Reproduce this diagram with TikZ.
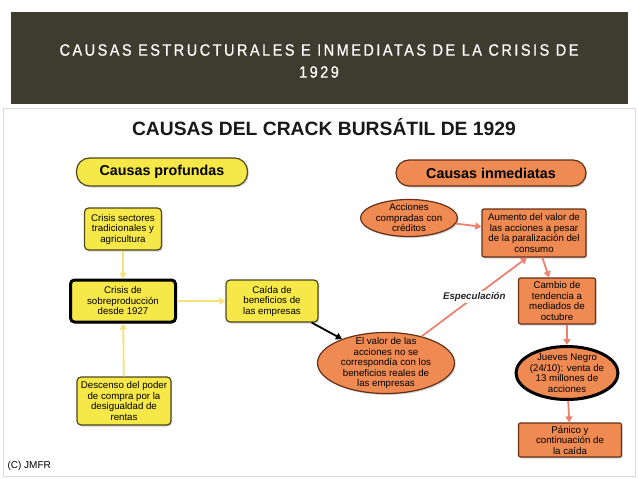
\documentclass[tikz,border=0pt]{standalone}
\usepackage{fontspec}
\setmainfont{Liberation Sans}
\newfontfamily\bannerfont[LetterSpace=15, FakeStretch=0.88, FakeBold=0.6]{Liberation Sans}
\usepackage{tikz}
\usetikzlibrary{arrows.meta,shapes.geometric,shadows}
\definecolor{crackyellow}{RGB}{246,232,72}
\definecolor{crackorange}{RGB}{239,138,82}
\definecolor{yellowline}{RGB}{80,72,26}
\definecolor{orangeline}{RGB}{100,48,22}
\definecolor{bannerbg}{RGB}{62,60,46}
\definecolor{yarrow}{RGB}{244,226,122}
\definecolor{sarrow}{RGB}{238,128,112}
\newcommand{\nodefont}{\fontsize{9.7}{10.5}\selectfont}

\begin{document}
\begin{tikzpicture}[
  x=1pt, y=-1pt,
  shade/.style={drop shadow={opacity=0.35, shadow xshift=1.2pt, shadow yshift=-1.5pt}},
  ybox/.style={rectangle, rounded corners=4pt, draw=yellowline, line width=1.2pt,
               fill=crackyellow, align=center, inner sep=1pt, font=\nodefont, shade},
  obox/.style={rectangle, rounded corners=2pt, draw=orangeline, line width=1.2pt,
               fill=crackorange, align=center, inner sep=1pt, font=\nodefont, shade},
  oval/.style={ellipse, draw=orangeline, line width=1.2pt, fill=crackorange,
               align=center, inner sep=-12pt, font=\nodefont, shade},
  head/.style={rectangle, rounded corners=13pt, line width=1.2pt, align=center,
               font=\fontsize{14.3}{16}\selectfont\bfseries, shade},
  key/.style={line width=3pt, draw=black},
  yarr/.style={-{Triangle[length=6pt,width=7pt]}, line width=1.8pt, yarrow},
  sarr/.style={-{Triangle[length=6pt,width=7pt]}, line width=1.8pt, sarrow},
  barr/.style={-{Triangle[length=6pt,width=7pt]}, line width=1.8pt, black}
]
\useasboundingbox (0,0) rectangle (638,479);
% banner and frame
\fill[bannerbg] (11,12) rectangle (628,104);
\draw[gray!30, line width=1pt] (3,108) rectangle (635,476);
\node[text=white, font=\bannerfont\fontsize{16.5}{22}\selectfont, align=center]
  (banner) at (319,61) {CAUSAS ESTRUCTURALES E INMEDIATAS DE LA CRISIS DE\\1929};
\node[font=\fontsize{19.3}{21}\selectfont\bfseries, text=black!90] (title) at (324,127)
  {CAUSAS DEL CRACK BURS\'ATIL DE 1929};
\node[font=\fontsize{10}{11}\selectfont, anchor=west] (copy) at (4,466) {(C) JMFR};

% causas profundas
\node[head, draw=yellowline, fill=crackyellow, minimum width=171pt, minimum height=28pt]
  (prof) at (162,172) {Causas profundas};
\node[ybox, minimum width=77pt, minimum height=42pt] (sect) at (123,229)
  {Crisis sectores\\tradicionales y\\agricultura};
\node[ybox, key, minimum width=105pt, minimum height=42pt] (sobre) at (123,301)
  {Crisis de\\sobreproducci\'on\\desde 1927};
\node[ybox, minimum width=92pt, minimum height=42pt] (caida) at (272,301)
  {Ca\'ida de\\beneficios de\\las empresas};
\node[ybox, minimum width=94pt, minimum height=48pt] (desc) at (124,401)
  {Descenso del poder\\de compra por la\\desigualdad de\\rentas};

% causas inmediatas
\node[head, draw=orangeline, fill=crackorange, minimum width=190pt, minimum height=26pt]
  (inme) at (491,173) {Causas inmediatas};
\node[oval, minimum width=97pt, minimum height=37pt] (accio) at (409,218)
  {Acciones\\compradas con\\cr\'editos};
\node[obox, minimum width=104pt, minimum height=48pt] (aumen) at (534,233)
  {Aumento del valor de\\las acciones a pesar\\de la paralizaci\'on del\\consumo};
\node[obox, minimum width=77pt, minimum height=46pt] (cambio) at (557,301)
  {Cambio de\\tendencia a\\mediados de\\octubre};
\node[oval, minimum width=137pt, minimum height=61pt] (valor) at (386,363)
  {El valor de las\\acciones no se\\correspond\'ia con los\\beneficios reales de\\las empresas};
\node[oval, key, minimum width=102pt, minimum height=53pt] (jueves) at (567,373)
  {Jueves Negro\\(24/10): venta de\\13 millones de\\acciones};
\node[obox, minimum width=103pt, minimum height=34pt] (panico) at (570,440)
  {P\'anico y\\continuaci\'on de\\la ca\'ida};

% connectors
\draw[yarr] (sect) -- (sobre);
\draw[yarr] (desc) -- (sobre);
\draw[yarr] (sobre) -- (caida);
\draw[barr] (caida) -- (valor);
\draw[sarr] (valor) -- node[fill=white, inner sep=1pt,
  font=\fontsize{9.7}{10}\selectfont\bfseries\itshape, text=black!85] (espec) {Especulaci\'on}
  ([xshift=-7pt]aumen.south);
\draw[sarr] (accio) -- (aumen);
\draw[sarr] (aumen) -- (cambio);
\draw[sarr] (jueves.north |- cambio.south) -- (jueves.north);
\draw[sarr] (jueves) -- (panico);
\end{tikzpicture}
\end{document}
